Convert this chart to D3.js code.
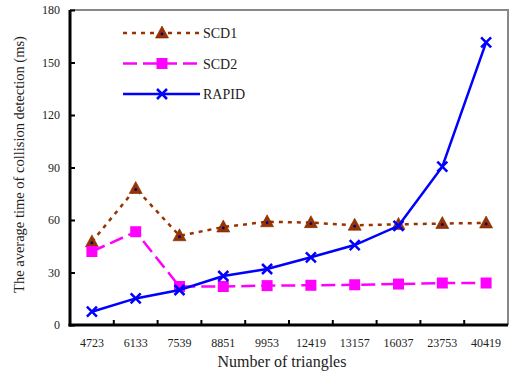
<!DOCTYPE html>
<html>
<head>
<meta charset="utf-8">
<script src="https://cdn.jsdelivr.net/npm/d3@7"></script>
<style>
  body { margin: 0; background: #fff; }
  text { font-family: "Liberation Serif", "DejaVu Serif", serif; fill: #222; }
</style>
</head>
<body>
<div class="viz"></div>
<script>
// data
var triangles = ["4723", "6133", "7539", "8851", "9953", "12419", "13157", "16037", "23753", "40419"]
var scd1 = [47.5, 78, 51, 56, 59, 58.5, 57, 57.5, 58, 58.3]
var scd2 = [42, 53.3, 22, 22, 22.5, 22.7, 23, 23.4, 24, 24]
var rapid = [7.6, 15.2, 20, 28, 32, 38.7, 45.7, 56.7, 90.5, 161.5]
var yTicks = [0, 30, 60, 90, 120, 150, 180]

var width = 510, height = 372
var margin = ({ top: 10, right: 2, bottom: 47, left: 70 })

const svg = d3.select(".viz")
    .append("svg")
    .attr("width", width)
    .attr("height", height)

var x = d3.scaleBand()
    .domain(triangles)
    .range([margin.left, width - margin.right])

var y = d3.scaleLinear()
    .domain([0, 180])
    .range([height - margin.bottom, margin.top])

// frame (top/right in gray)
svg.append("path")
    .attr("d", `M${margin.left},${margin.top}H${width - margin.right}V${height - margin.bottom}`)
    .attr("fill", "none")
    .attr("stroke", "#888")
    .attr("stroke-width", 2)

// axes, ticks pointing inward
var xAxis = svg.append("g")
    .attr("transform", `translate(0,${height - margin.bottom})`)
    .call(d3.axisBottom(x).tickSize(0).tickPadding(13))
xAxis.selectAll("text").attr("font-size", 12)
xAxis.select(".domain").remove()
xAxis.selectAll(".inner")
    .data(triangles.slice(1))
    .enter().append("line")
    .attr("x1", d => x(d)).attr("x2", d => x(d))
    .attr("y1", 0).attr("y2", -5)
    .attr("stroke", "#000").attr("stroke-width", 2)

var yAxis = svg.append("g")
    .attr("transform", `translate(${margin.left},0)`)
    .call(d3.axisLeft(y).tickValues(yTicks).tickSize(-5).tickPadding(10))
yAxis.selectAll("text").attr("font-size", 12)
yAxis.selectAll(".tick line").attr("stroke-width", 2)
yAxis.select(".domain").remove()

svg.append("line")
    .attr("x1", margin.left).attr("x2", margin.left)
    .attr("y1", margin.top).attr("y2", height - margin.bottom + 1.5)
    .attr("stroke", "#000").attr("stroke-width", 3)
svg.append("line")
    .attr("x1", margin.left - 1.5).attr("x2", width - margin.right)
    .attr("y1", height - margin.bottom).attr("y2", height - margin.bottom)
    .attr("stroke", "#000").attr("stroke-width", 3)

// axis titles
svg.append("text")
    .attr("x", 282)
    .attr("y", 367)
    .attr("text-anchor", "middle")
    .attr("font-size", 16)
    .text("Number of triangles")

svg.append("text")
    .attr("transform", `translate(24,${(margin.top + height - margin.bottom) / 2 - 3}) rotate(-90)`)
    .attr("text-anchor", "middle")
    .attr("font-size", 14.5)
    .text("The average time of collision detection (ms)")

var series = [
    { name: "SCD1", values: scd1, color: "#993300", dash: "4,5", marker: "triangle" },
    { name: "SCD2", values: scd2, color: "#ff00ff", dash: "14,6", marker: "square" },
    { name: "RAPID", values: rapid, color: "#0000ff", dash: null, marker: "cross" }
]

var cx = d => x(d) + x.bandwidth() / 2
var line = d3.line()
    .x((d, i) => cx(triangles[i]))
    .y(d => y(d))

function marker(g, type, color) {
    if (type == "triangle") {
        g.append("path").attr("d", "M0,-7L6.5,5H-6.5Z").attr("fill", color).attr("stroke", "#7a2a00").attr("stroke-width", 0.6)
        g.append("circle").attr("cy", 1).attr("r", 1.4).attr("fill", "#000080")
    } else if (type == "square") {
        g.append("rect").attr("x", -5.5).attr("y", -5.5).attr("width", 11).attr("height", 11).attr("fill", color)
    } else {
        g.append("path").attr("d", "M-5,-5L5,5M-5,5L5,-5").attr("stroke", color).attr("stroke-width", 2.5)
    }
}

series.forEach(function (s, k) {
    svg.append("path")
        .datum(s.values)
        .attr("d", line)
        .attr("fill", "none")
        .attr("stroke", s.color)
        .attr("stroke-width", 2.5)
        .attr("stroke-dasharray", s.dash)

    s.values.forEach(function (v, i) {
        var g = svg.append("g").attr("transform", `translate(${cx(triangles[i])},${y(v)})`)
        marker(g, s.marker, s.color)
    })

    // legend
    var ly = 33 + k * 30.5
    svg.append("line")
        .attr("x1", 123).attr("x2", 200)
        .attr("y1", ly).attr("y2", ly)
        .attr("stroke", s.color)
        .attr("stroke-width", 2.5)
        .attr("stroke-dasharray", s.dash)
    marker(svg.append("g").attr("transform", `translate(162,${ly})`), s.marker, s.color)
    svg.append("text")
        .attr("x", 203).attr("y", ly + 5)
        .attr("font-size", 14)
        .text(s.name)
})
</script>
</body>
</html>
